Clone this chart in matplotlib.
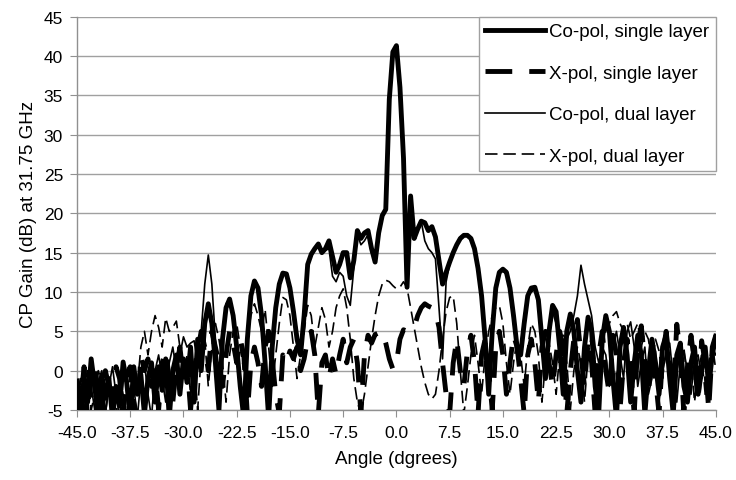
import numpy as np
import matplotlib
matplotlib.use("Agg")
import matplotlib.pyplot as plt

plt.rcParams['font.family'] = ['Liberation Sans', 'DejaVu Sans']
plt.rcParams['axes.unicode_minus'] = False

# Angle grid (degrees), 0.5 deg sampling
angle = np.arange(-45.0, 45.0001, 0.5)

co_single = [
    -2, -5.5, -1, -4, 1.5, -2, -6, -0.5, -3.5, -1,          # -45 .. -40.5
    -6, -2, -4.5, 1.1, -1.5, -6, 0.5, -3, -0.5, -5.5,       # -40 .. -35.5
    -1, 1, -4, 0.5, -2.5, 1.5, -6, 0, 2, -3,                # -35 .. -30.5
    1.5, -1.5, 3, -4, 4, 0, 6, 8.5, 6, 1,                   # -30 .. -25.5
    -5, 4, 8, 9.1, 7, 3, -2, -6, 4, 9.5,                    # -25 .. -20.5
    11.4, 10.5, 7, 1, -6, 3, 8, 11, 12.4, 12.3,             # -20 .. -15.5
    10.5, 7.5, 4, 2, 7, 13.5, 14.8, 15.5, 16.1, 15,         # -15 .. -10.5
    15.5, 16.5, 14.5, 12.5, 13.5, 15, 15, 11.8, 14, 17.8,   # -10 .. -5.5
    16.8, 17.5, 17.8, 15.5, 13.8, 17.5, 19.7, 20.5, 34.5, 40.5,  # -5 .. -0.5
    41.3, 36, 27, 10.6, 22.2, 16.8, 18, 19, 18.8, 17.8,     # 0 .. 4.5
    18.3, 17, 14, 11, 12.5, 13.8, 15, 16, 16.8, 17.2,       # 5 .. 9.5
    17.2, 16.8, 15.5, 13, 9.5, 4, -3, 5, 10.5, 12.5,        # 10 .. 14.5
    12.9, 12.5, 10.5, 7, 3, 2, 6, 9.5, 10.5, 10.6,          # 15 .. 19.5
    9, 4, -1, 5, 8.3, 7.5, 3, -3, 5, 7.2,                   # 20 .. 24.5
    5, 0, -4, 3, 6.8, 5, -2, -5.5, 4, 7,                    # 25 .. 29.5
    5, -1, -6, 3, 5.5, 2, -4, 1, 4.5, 2,                    # 30 .. 34.5
    -5.5, 0, 4, 1, -3, 3, 4.5, -1, -5.5, 2,                 # 35 .. 39.5
    3.5, -2, -4, 1, 3, -3, 0, 3, -2, 2,                     # 40 .. 44.5
    4.4,                                                    # 45
]

x_single = [
    -1, -4, 0.5, -6, -1, 1, -3, -6, 0, -2,
    -5, 0.5, -1, -5.5, -0.5, 0.5, -4, -6, 2, 0,
    1.5, -2, 0, -5, 1, 2.5, -1, -4, 0.5, 3,
    -1, 1, -5, 0, 2.5, 5, 3, 0, 5, 3,
    1, -2, 2, 5, 3.5, 1, 4, 2, -5.5, 1,
    3, 1, -2, 3, 5, 1.5, -3, -5.5, 2, 1,
    2.5, 1.5, 3, 0, 1.5, 4, 5, 2, -5.5, 1,
    2, -1, 1.5, -0.5, 2, 4, 1, 3, 4, 1,
    -5.5, 2, 4.5, 3.5, 4.6, 4.8, 5.0, 3.5, 1.5, 0.2,
    1.0, 4, 5.2, 5, 5.2, 5.5, 7, 8, 8.5, 8.2,
    8, 7.5, 5.5, 1, -3, -5.5, 1, 4, 0, -2,
    2.5, 4.5, 1, -5.5, 2, 4, 0, -5, 3, 5,
    2, -3, 1, 4.5, 3, -1, -5.5, 2, 4, 1,
    -4, 3, 5, 1, -2, 2, 5, 3, -5.5, 0,
    4, 6.5, 2, -2, 4, 1, -5.5, 2, 5, 0,
    -3, 4.5, 2, -5, 1, 4, 0, -5.5, 3.5, 5.7,
    1, -3, 3, -1, -5.5, 2, 5, 1, -3, 5.9,
    2, -5.5, 0.5, 4.5, 1, -4, 3.8, 1, -5, 3,
    4.5,
]

co_dual = [
    -4, -1, -5.5, 0, -2, -5, -1.5, 0, -5.5, -2,
    0.5, -3, -6, -1, 0, -4, -2, -6, -1, 1,
    -3, -6, 0, 2, -1, -4, 1, 3, 0, 2,
    4.3, 3, 3.5, 3.8, 1, 5, 11, 14.7, 11, 4,
    0, 5, 8.5, 9.2, 7, 2, -3, -5, 5, 9.8,
    11.3, 10.5, 7, 0, -5.5, 4, 8, 11, 12.2, 12.3,
    11, 8, 5, 2, 6, 13.2, 14.6, 15.3, 15.8, 15,
    15.3, 15.5, 12, 11.3, 12.5, 12, 9.5, 8.3, 13, 17.3,
    16, 16.5, 17.3, 15, 14.5, 17, 19.5, 20.5, 34.5, 40.5,
    41.3, 36, 27, 10.6, 22, 17, 18, 19, 16.5, 15.5,
    15, 14.2, 8, 1.5, 11.3, 13.5, 15, 16.2, 17, 17.3,
    17.2, 16.5, 15.2, 12.8, 9, 3.5, -2, 6, 11, 12.5,
    12.7, 12.2, 10, 6, 2, 3, 7, 9.5, 10, 10.3,
    8.5, 3, 0, 4, 7.5, 6, 4, 4.5, 4, 5,
    7, 9.5, 13.4, 11, 9, 7, 3, 1, 3, 2,
    -2, 3, 5, 2, -1, 5, 6.2, 3, -2, 1,
    3, -3, -1, 2.5, -4, 0, 2, 3.5, -1, -4,
    1, 2.5, 0, -3, 1.5, 2, -1, 2, 0, 3,
    2,
]

x_dual = [
    -5.5, -2, -4, 0, -5, -3, 0, -1.4, -5.5, -2,
    -4, -6, -1, -3, -5.5, -1, 0.5, -2, 3, 5,
    2, 5, 7, 5.5, 3, 6.7, 5, 5.5, 6.3, 3,
    -1, 2, -3, 1, -5, 2, 4, -2, 3, 6,
    4, 1, -4, 2, 5, 6, 3, 0, 4, 7,
    8.5, 7, 5, 7.8, 3, -2, 2, 6, 9.3, 9,
    7, 3, -1, 2, 5, 8.3, 7, 3, 5.5, 8,
    6.5, 3, 5, 8, 9.5, 10.4, 8, 4, -1, -4,
    -5.5, -3, 0.5, 4, 7, 9.5, 11, 11.5, 11.3, 10.8,
    10.4, 10.6, 11.3, 10.5, 8, 5.5, 3, 0.5, -1.5, -3,
    -3.6, -3, 0, 4, 7.5, 9.3, 9.5, 6, 0, -5.5,
    -2, 2, 4.5, 1, -3, 2, 5, 7, 8, 8.3,
    6, 1, -3, 1, 4, 2, -2, 3, 6, 5,
    2, -4, 1, 3.5, 1, -3, 2, 4, 1, -5,
    0, 3, 1, -4, 2, 4.5, 1, -3, 3, 5,
    6, 7, 7.5, 6, 5, 6, 4, 5, 6, 3,
    5, 4, 1, 4, 2.5, -1, 3, 1, -3, 2,
    0, 3, -2, 1.5, -4, 0, 2, -3, 1, 3.5,
    0,
]

labels = ["Co-pol, single layer", "X-pol, single layer",
          "Co-pol, dual layer", "X-pol, dual layer"]
xticks = [-45.0, -37.5, -30.0, -22.5, -15.0, -7.5, 0.0, 7.5, 15.0,
          22.5, 30.0, 37.5, 45.0]
yticks = list(range(-5, 46, 5))

fig = plt.figure(figsize=(7.36, 4.81), dpi=100)
ax = fig.add_axes([0.1046, 0.1455, 0.868, 0.818])

grey = "#a0a0a0"
l1, = ax.plot(angle, co_single, color="black", lw=3.5, solid_joinstyle="round",
              label=labels[0], zorder=3)
l2, = ax.plot(angle, x_single, color="black", lw=3.5, linestyle=(0, (5.5, 3.5)),
              label=labels[1], zorder=3)
l3, = ax.plot(angle, co_dual, color="black", lw=1.2, label=labels[2], zorder=4)
l4, = ax.plot(angle, x_dual, color="black", lw=1.2, linestyle=(0, (7.5, 3.5)),
              label=labels[3], zorder=4)

ax.set_xlim(-45, 45)
ax.set_ylim(-5, 45)
ax.set_xticks(xticks)
ax.set_xticklabels([f"{t:.1f}" for t in xticks])
ax.set_yticks(yticks)
ax.yaxis.grid(True, color=grey, lw=1.0)
ax.set_axisbelow(True)
for s in ["top", "right"]:
    ax.spines[s].set_visible(False)
for s in ["left", "bottom"]:
    ax.spines[s].set_color("#909090")
    ax.spines[s].set_linewidth(1.0)
ax.tick_params(axis="both", direction="out", length=5, color="#909090",
               labelsize=12.5, labelcolor="black")
ax.tick_params(axis="y", pad=5)
ax.tick_params(axis="x", pad=6)

ax.set_xlabel("Angle (dgrees)", fontsize=13.5, labelpad=7)
ax.set_ylabel("CP Gain (dB) at 31.75 GHz", fontsize=13.5, labelpad=5)

leg = ax.legend(handles=[l1, l2, l3, l4], loc="upper right", fontsize=13.5,
                frameon=True, fancybox=False, framealpha=1, edgecolor=grey,
                borderaxespad=0, borderpad=0.35, handlelength=3.2,
                handletextpad=0.2, labelspacing=1.3)
leg.get_frame().set_linewidth(1.0)
leg.set_zorder(10)

fig.savefig("out.png", dpi=100)
